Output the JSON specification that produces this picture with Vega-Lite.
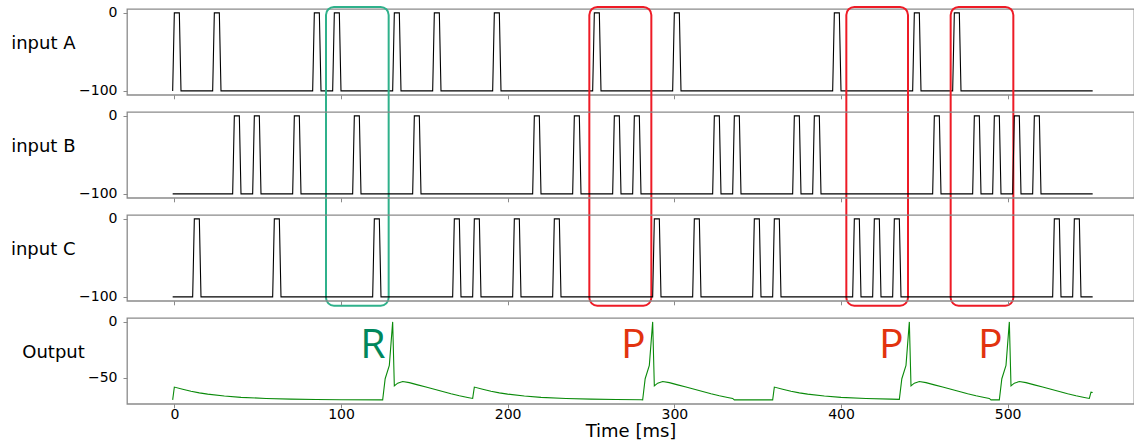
{
  "$schema": "https://vega.github.io/schema/vega-lite/v6.json",
  "background": "white",
  "padding": {"left": 9, "top": 5, "right": 0, "bottom": 0},
  "config": {
    "font": "DejaVu Sans",
    "view": {"stroke": "#8a8a8a", "strokeWidth": 1.3},
    "axis": {
      "grid": false, "domain": false, "tickColor": "#8a8a8a", "tickSize": 4, "tickWidth": 1,
      "labelFont": "DejaVu Sans", "labelFontSize": 14, "labelColor": "#000000",
      "titleFont": "DejaVu Sans", "titleFontSize": 18, "titleFontWeight": "normal", "titleColor": "#000000"
    }
  },
  "datasets": {
    "A": [
      {"t": -1, "v": -100}, {"t": 0, "v": 0}, {"t": 3, "v": 0}, {"t": 4, "v": -100},
      {"t": 23, "v": -100}, {"t": 24, "v": 0}, {"t": 27, "v": 0}, {"t": 28, "v": -100},
      {"t": 83, "v": -100}, {"t": 84, "v": 0}, {"t": 87, "v": 0}, {"t": 88, "v": -100},
      {"t": 95, "v": -100}, {"t": 96, "v": 0}, {"t": 99, "v": 0}, {"t": 100, "v": -100},
      {"t": 131, "v": -100}, {"t": 132, "v": 0}, {"t": 135, "v": 0}, {"t": 136, "v": -100},
      {"t": 155, "v": -100}, {"t": 156, "v": 0}, {"t": 159, "v": 0}, {"t": 160, "v": -100},
      {"t": 191, "v": -100}, {"t": 192, "v": 0}, {"t": 195, "v": 0}, {"t": 196, "v": -100},
      {"t": 251, "v": -100}, {"t": 252, "v": 0}, {"t": 255, "v": 0}, {"t": 256, "v": -100},
      {"t": 299, "v": -100}, {"t": 300, "v": 0}, {"t": 303, "v": 0}, {"t": 304, "v": -100},
      {"t": 395, "v": -100}, {"t": 396, "v": 0}, {"t": 399, "v": 0}, {"t": 400, "v": -100},
      {"t": 443, "v": -100}, {"t": 444, "v": 0}, {"t": 447, "v": 0}, {"t": 448, "v": -100},
      {"t": 467, "v": -100}, {"t": 468, "v": 0}, {"t": 471, "v": 0}, {"t": 472, "v": -100},
      {"t": 551, "v": -100}
    ],
    "B": [
      {"t": -1, "v": -100},
      {"t": 35, "v": -100}, {"t": 36, "v": 0}, {"t": 39, "v": 0}, {"t": 40, "v": -100},
      {"t": 47, "v": -100}, {"t": 48, "v": 0}, {"t": 51, "v": 0}, {"t": 52, "v": -100},
      {"t": 71, "v": -100}, {"t": 72, "v": 0}, {"t": 75, "v": 0}, {"t": 76, "v": -100},
      {"t": 107, "v": -100}, {"t": 108, "v": 0}, {"t": 111, "v": 0}, {"t": 112, "v": -100},
      {"t": 143, "v": -100}, {"t": 144, "v": 0}, {"t": 147, "v": 0}, {"t": 148, "v": -100},
      {"t": 215, "v": -100}, {"t": 216, "v": 0}, {"t": 219, "v": 0}, {"t": 220, "v": -100},
      {"t": 239, "v": -100}, {"t": 240, "v": 0}, {"t": 243, "v": 0}, {"t": 244, "v": -100},
      {"t": 263, "v": -100}, {"t": 264, "v": 0}, {"t": 267, "v": 0}, {"t": 268, "v": -100},
      {"t": 275, "v": -100}, {"t": 276, "v": 0}, {"t": 279, "v": 0}, {"t": 280, "v": -100},
      {"t": 323, "v": -100}, {"t": 324, "v": 0}, {"t": 327, "v": 0}, {"t": 328, "v": -100},
      {"t": 335, "v": -100}, {"t": 336, "v": 0}, {"t": 339, "v": 0}, {"t": 340, "v": -100},
      {"t": 371, "v": -100}, {"t": 372, "v": 0}, {"t": 375, "v": 0}, {"t": 376, "v": -100},
      {"t": 383, "v": -100}, {"t": 384, "v": 0}, {"t": 387, "v": 0}, {"t": 388, "v": -100},
      {"t": 455, "v": -100}, {"t": 456, "v": 0}, {"t": 459, "v": 0}, {"t": 460, "v": -100},
      {"t": 479, "v": -100}, {"t": 480, "v": 0}, {"t": 483, "v": 0}, {"t": 484, "v": -100},
      {"t": 491, "v": -100}, {"t": 492, "v": 0}, {"t": 495, "v": 0}, {"t": 496, "v": -100},
      {"t": 503, "v": -100}, {"t": 504, "v": 0}, {"t": 507, "v": 0}, {"t": 508, "v": -100},
      {"t": 515, "v": -100}, {"t": 516, "v": 0}, {"t": 519, "v": 0}, {"t": 520, "v": -100},
      {"t": 551, "v": -100}
    ],
    "C": [
      {"t": -1, "v": -100},
      {"t": 11, "v": -100}, {"t": 12, "v": 0}, {"t": 15, "v": 0}, {"t": 16, "v": -100},
      {"t": 59, "v": -100}, {"t": 60, "v": 0}, {"t": 63, "v": 0}, {"t": 64, "v": -100},
      {"t": 119, "v": -100}, {"t": 120, "v": 0}, {"t": 123, "v": 0}, {"t": 124, "v": -100},
      {"t": 167, "v": -100}, {"t": 168, "v": 0}, {"t": 171, "v": 0}, {"t": 172, "v": -100},
      {"t": 179, "v": -100}, {"t": 180, "v": 0}, {"t": 183, "v": 0}, {"t": 184, "v": -100},
      {"t": 203, "v": -100}, {"t": 204, "v": 0}, {"t": 207, "v": 0}, {"t": 208, "v": -100},
      {"t": 227, "v": -100}, {"t": 228, "v": 0}, {"t": 231, "v": 0}, {"t": 232, "v": -100},
      {"t": 287, "v": -100}, {"t": 288, "v": 0}, {"t": 291, "v": 0}, {"t": 292, "v": -100},
      {"t": 311, "v": -100}, {"t": 312, "v": 0}, {"t": 315, "v": 0}, {"t": 316, "v": -100},
      {"t": 347, "v": -100}, {"t": 348, "v": 0}, {"t": 351, "v": 0}, {"t": 352, "v": -100},
      {"t": 359, "v": -100}, {"t": 360, "v": 0}, {"t": 363, "v": 0}, {"t": 364, "v": -100},
      {"t": 407, "v": -100}, {"t": 408, "v": 0}, {"t": 411, "v": 0}, {"t": 412, "v": -100},
      {"t": 419, "v": -100}, {"t": 420, "v": 0}, {"t": 423, "v": 0}, {"t": 424, "v": -100},
      {"t": 431, "v": -100}, {"t": 432, "v": 0}, {"t": 435, "v": 0}, {"t": 436, "v": -100},
      {"t": 527, "v": -100}, {"t": 528, "v": 0}, {"t": 531, "v": 0}, {"t": 532, "v": -100},
      {"t": 539, "v": -100}, {"t": 540, "v": 0}, {"t": 543, "v": 0}, {"t": 544, "v": -100},
      {"t": 551, "v": -100}
    ],
    "out": [
      {"t": -1, "v": -70}, {"t": 0, "v": -58.5}, {"t": 5, "v": -60.4}, {"t": 10, "v": -62.3}, {"t": 15, "v": -63.7},
      {"t": 20, "v": -64.8}, {"t": 30, "v": -66.5}, {"t": 40, "v": -67.7}, {"t": 55, "v": -68.7}, {"t": 70, "v": -69.3},
      {"t": 85, "v": -69.6}, {"t": 100, "v": -69.8}, {"t": 125, "v": -70},
      {"t": 126.5, "v": -51}, {"t": 129, "v": -39}, {"t": 131, "v": 0}, {"t": 132, "v": -57.5}, {"t": 134, "v": -55},
      {"t": 137, "v": -53.5}, {"t": 141, "v": -54.5}, {"t": 146, "v": -56.5}, {"t": 151, "v": -58.5}, {"t": 156, "v": -60.5},
      {"t": 161, "v": -62.5}, {"t": 166, "v": -64.5}, {"t": 171, "v": -66.3}, {"t": 176, "v": -67.8}, {"t": 179, "v": -68.7},
      {"t": 180, "v": -58.5}, {"t": 185, "v": -60.4}, {"t": 190, "v": -62.3}, {"t": 195, "v": -63.7}, {"t": 200, "v": -64.8},
      {"t": 210, "v": -66.5}, {"t": 220, "v": -67.7}, {"t": 235, "v": -68.7}, {"t": 250, "v": -69.3}, {"t": 265, "v": -69.6},
      {"t": 280, "v": -69.8}, {"t": 281, "v": -70},
      {"t": 282.5, "v": -51}, {"t": 285, "v": -39}, {"t": 287, "v": 0}, {"t": 288, "v": -57.5}, {"t": 290, "v": -55},
      {"t": 293, "v": -53.5}, {"t": 297, "v": -54.5}, {"t": 302, "v": -56.5}, {"t": 307, "v": -58.5}, {"t": 312, "v": -60.5},
      {"t": 317, "v": -62.5}, {"t": 322, "v": -64.5}, {"t": 327, "v": -66.3}, {"t": 332, "v": -67.8}, {"t": 335, "v": -68.7},
      {"t": 336, "v": -70}, {"t": 359, "v": -70},
      {"t": 360, "v": -58.5}, {"t": 365, "v": -60.4}, {"t": 370, "v": -62.3}, {"t": 375, "v": -63.7}, {"t": 380, "v": -64.8},
      {"t": 390, "v": -66.5}, {"t": 400, "v": -67.7}, {"t": 415, "v": -68.7}, {"t": 430, "v": -69.3}, {"t": 435, "v": -69.5},
      {"t": 436.5, "v": -51}, {"t": 439, "v": -39}, {"t": 441, "v": 0}, {"t": 442, "v": -57.5}, {"t": 444, "v": -55},
      {"t": 447, "v": -53.5}, {"t": 451, "v": -54.5}, {"t": 456, "v": -56.5}, {"t": 461, "v": -58.5}, {"t": 466, "v": -60.5},
      {"t": 471, "v": -62.5}, {"t": 476, "v": -64.5}, {"t": 481, "v": -66.3}, {"t": 486, "v": -67.8}, {"t": 489, "v": -68.7},
      {"t": 490, "v": -70}, {"t": 495, "v": -70},
      {"t": 496.5, "v": -51}, {"t": 499, "v": -39}, {"t": 501, "v": 0}, {"t": 502, "v": -57.5}, {"t": 504, "v": -55},
      {"t": 507, "v": -53.5}, {"t": 511, "v": -54.5}, {"t": 516, "v": -56.5}, {"t": 521, "v": -58.5}, {"t": 526, "v": -60.5},
      {"t": 531, "v": -62.5}, {"t": 536, "v": -64.5}, {"t": 541, "v": -66.3}, {"t": 546, "v": -67.8}, {"t": 549, "v": -68.7},
      {"t": 550, "v": -63}, {"t": 551, "v": -63.3}
    ],
    "boxes": [
      {"t": 91.0, "t2": 128.6, "kind": "R"},
      {"t": 249.0, "t2": 286.2, "kind": "P"},
      {"t": 403.2, "t2": 440.2, "kind": "P"},
      {"t": 465.8, "t2": 503.4, "kind": "P"}
    ],
    "labels": [
      {"t": 119.2, "label": "R", "kind": "R"},
      {"t": 275.4, "label": "P", "kind": "P"},
      {"t": 430.2, "label": "P", "kind": "P"},
      {"t": 489.6, "label": "P", "kind": "P"}
    ]
  },
  "spacing": 17,
  "bounds": "flush",
  "resolve": {"scale": {"x": "independent", "y": "independent"}},
  "vconcat": [
    {
      "width": 1007, "height": 85.8,
      "layer": [
        {
          "data": {"name": "A"},
          "mark": {"type": "line", "color": "#000000", "strokeWidth": 1.1},
          "encoding": {
            "x": {"field": "t", "type": "quantitative", "scale": {"domain": [-28.4, 575.8], "nice": false, "zero": false},
                  "axis": {"values": [0, 100, 200, 300, 400, 500], "labels": false, "title": null}},
            "y": {"field": "v", "type": "quantitative", "scale": {"domain": [-105, 5], "nice": false, "zero": false},
                  "axis": {"values": [0, -100], "title": "input A", "titleAngle": 0, "titleAlign": "right", "titleBaseline": "middle", "titleX": -52, "titleY": 34, "labelPadding": 6}}
          }
        },
        {
          "data": {"name": "boxes"},
          "mark": {"type": "rect", "filled": false, "strokeWidth": 2, "cornerRadius": 8},
          "encoding": {
            "x": {"field": "t", "type": "quantitative", "scale": {"domain": [-28.4, 575.8], "nice": false, "zero": false},
                  "axis": {"values": [0, 100, 200, 300, 400, 500], "labels": false, "title": null}},
            "x2": {"field": "t2"},
            "y": {"datum": 7.6, "type": "quantitative", "scale": {"domain": [-105, 5], "nice": false, "zero": false},
                  "axis": {"values": [0, -100], "title": "input A", "titleAngle": 0, "titleAlign": "right", "titleBaseline": "middle", "titleX": -52, "titleY": 34, "labelPadding": 6}},
            "y2": {"datum": -375.4},
            "stroke": {"field": "kind", "type": "nominal", "scale": {"domain": ["R", "P"], "range": ["#2fb18b", "#ee1b26"]}, "legend": null}
          }
        }
      ]
    },
    {
      "width": 1007, "height": 85.8,
      "data": {"name": "B"},
      "mark": {"type": "line", "color": "#000000", "strokeWidth": 1.1},
      "encoding": {
        "x": {"field": "t", "type": "quantitative", "scale": {"domain": [-28.4, 575.8], "nice": false, "zero": false},
              "axis": {"values": [0, 100, 200, 300, 400, 500], "labels": false, "title": null}},
        "y": {"field": "v", "type": "quantitative", "scale": {"domain": [-105, 5], "nice": false, "zero": false},
              "axis": {"values": [0, -100], "title": "input B", "titleAngle": 0, "titleAlign": "right", "titleBaseline": "middle", "titleX": -52, "titleY": 34, "labelPadding": 6}}
      }
    },
    {
      "width": 1007, "height": 85.8,
      "data": {"name": "C"},
      "mark": {"type": "line", "color": "#000000", "strokeWidth": 1.1},
      "encoding": {
        "x": {"field": "t", "type": "quantitative", "scale": {"domain": [-28.4, 575.8], "nice": false, "zero": false},
              "axis": {"values": [0, 100, 200, 300, 400, 500], "labels": false, "title": null}},
        "y": {"field": "v", "type": "quantitative", "scale": {"domain": [-105, 5], "nice": false, "zero": false},
              "axis": {"values": [0, -100], "title": "input C", "titleAngle": 0, "titleAlign": "right", "titleBaseline": "middle", "titleX": -52, "titleY": 34, "labelPadding": 6}}
      }
    },
    {
      "width": 1007, "height": 85.8,
      "layer": [
        {
          "data": {"name": "out"},
          "mark": {"type": "line", "color": "#0a8a0a", "strokeWidth": 1.1},
          "encoding": {
            "x": {"field": "t", "type": "quantitative", "scale": {"domain": [-28.4, 575.8], "nice": false, "zero": false},
                  "axis": {"values": [0, 100, 200, 300, 400, 500], "title": "Time [ms]", "labelPadding": 0, "titlePadding": 1}},
            "y": {"field": "v", "type": "quantitative", "scale": {"domain": [-73.5, 3.5], "nice": false, "zero": false},
                  "axis": {"values": [0, -50], "title": "Output", "titleAngle": 0, "titleAlign": "right", "titleBaseline": "middle", "titleX": -42.7, "titleY": 34, "labelPadding": 6}}
          }
        },
        {
          "data": {"name": "labels"},
          "mark": {"type": "text", "font": "Open Sans", "fontSize": 41, "baseline": "alphabetic", "align": "center"},
          "encoding": {
            "x": {"field": "t", "type": "quantitative", "scale": {"domain": [-28.4, 575.8], "nice": false, "zero": false},
                  "axis": {"values": [0, 100, 200, 300, 400, 500], "title": "Time [ms]", "labelPadding": 0, "titlePadding": 1}},
            "y": {"datum": -32.1, "type": "quantitative", "scale": {"domain": [-73.5, 3.5], "nice": false, "zero": false},
                  "axis": {"values": [0, -50], "title": "Output", "titleAngle": 0, "titleAlign": "right", "titleBaseline": "middle", "titleX": -42.7, "titleY": 34, "labelPadding": 6}},
            "text": {"field": "label", "type": "nominal"},
            "color": {"field": "kind", "type": "nominal", "scale": {"domain": ["R", "P"], "range": ["#00875c", "#e2330f"]}, "legend": null}
          }
        }
      ]
    }
  ]
}
